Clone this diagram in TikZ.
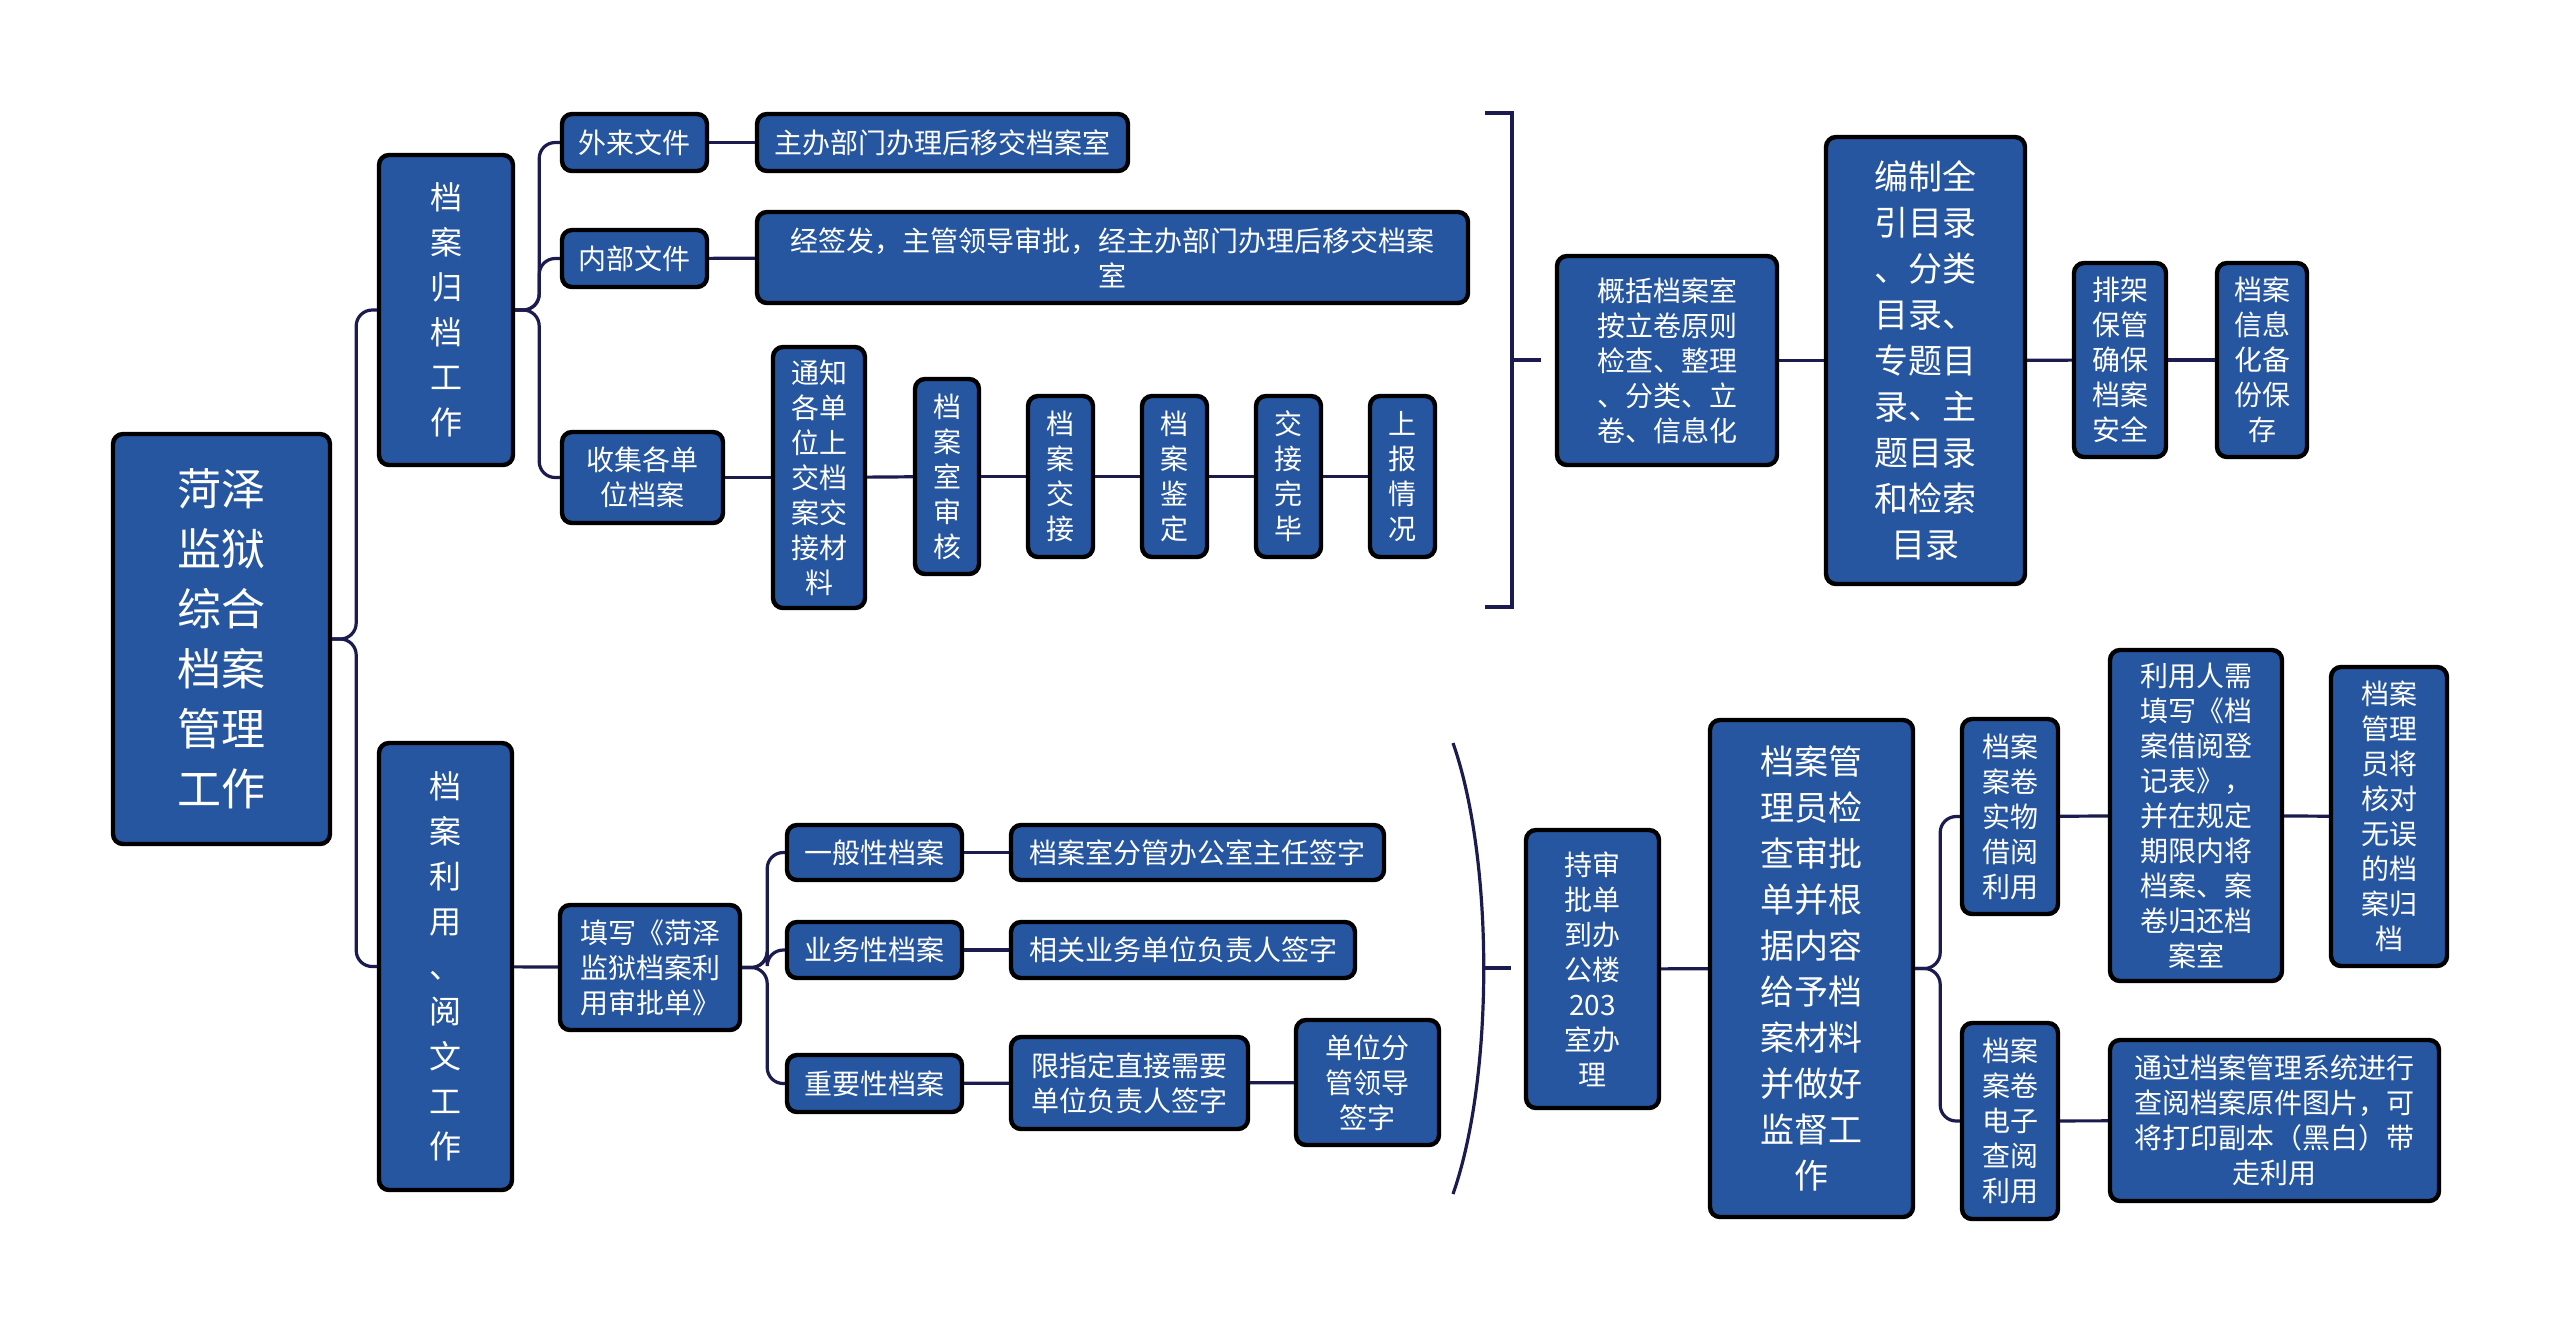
\documentclass[tikz,border=0pt]{standalone}
\usepackage{fontspec}
\newfontfamily\cjk{Noto Sans CJK SC}
\usepackage{xcolor}
\usepackage{tikz}

\definecolor{boxblue}{RGB}{38,86,160}
\definecolor{linknavy}{RGB}{27,27,79}

\tikzset{
  box/.style={draw=black, line width=1.1pt, fill=boxblue, rounded corners=2.5pt,
    text=white, align=center, inner sep=0pt, font=\cjk\fontsize{7}{8.75}\selectfont},
  colfont/.style={font=\cjk\fontsize{8}{11.25}\selectfont},
  bigfont/.style={font=\cjk\fontsize{8.5}{11.5}\selectfont},
  rootfont/.style={font=\cjk\fontsize{11}{15}\selectfont},
  link/.style={draw=linknavy, line width=0.8pt, rounded corners=4pt},
}

\begin{document}
\begin{tikzpicture}[x=0.25pt,y=-0.25pt]
\useasboundingbox (0,0) rectangle (2560,1331);

\node[box, rootfont, minimum width=54.25pt, minimum height=102.5pt] (root) at (221.5,639) {菏泽\\监狱\\综合\\档案\\管理\\工作};
\node[box, colfont, minimum width=33.5pt, minimum height=77.5pt] (guidang) at (446,310) {档\\案\\归\\档\\工\\作};
\node[box, colfont, minimum width=33.25pt, minimum height=111.75pt] (liyong) at (445.5,966.5) {档\\案\\利\\用\\、\\阅\\文\\工\\作};

\node[box, minimum width=36.25pt, minimum height=14.25pt] (wailai) at (634.5,142.5) {外来文件};
\node[box, minimum width=92.75pt, minimum height=14.25pt] (zhuban) at (942.5,142.5) {主办部门办理后移交档案室};
\node[box, minimum width=36.25pt, minimum height=14.25pt] (neibu) at (634.5,258.5) {内部文件};
\node[box, minimum width=177.75pt, minimum height=22.75pt] (jingqian) at (1112.5,257.5) {经签发，主管领导审批，经主办部门办理后移交档案\\室};
\node[box, minimum width=40.25pt, minimum height=22.75pt] (shouji) at (642.5,477.5) {收集各单\\位档案};
\node[box, minimum width=23pt, minimum height=65.25pt] (tongzhi) at (819,477.5) {通知\\各单\\位上\\交档\\案交\\接材\\料};
\node[box, minimum width=16pt, minimum height=48.75pt] (shenhe) at (947,476.5) {档\\案\\室\\审\\核};
\node[box, minimum width=16.25pt, minimum height=40.25pt] (jiaojie) at (1060.5,476.5) {档\\案\\交\\接};
\node[box, minimum width=16.25pt, minimum height=40.25pt] (jianding) at (1174.5,476.5) {档\\案\\鉴\\定};
\node[box, minimum width=16.25pt, minimum height=40.25pt] (wanbi) at (1288.5,476.5) {交\\接\\完\\毕};
\node[box, minimum width=16.25pt, minimum height=40.25pt] (shangbao) at (1402.5,476.5) {上\\报\\情\\况};

\node[box, minimum width=55pt, minimum height=52.25pt] (gaikuo) at (1667,360.5) {概括档案室\\按立卷原则\\检查、整理\\、分类、立\\卷、信息化};
\node[box, bigfont, minimum width=49.75pt, minimum height=111.75pt] (bianzhi) at (1925.5,360.5) {编制全\\引目录\\、分类\\目录、\\专题目\\录、主\\题目录\\和检索\\目录};
\node[box, minimum width=23pt, minimum height=48.5pt] (paijia) at (2120,360) {排架\\保管\\确保\\档案\\安全};
\node[box, minimum width=22.5pt, minimum height=48.5pt] (xinxi) at (2262,360) {档案\\信息\\化备\\份保\\存};

\node[box, minimum width=45pt, minimum height=31.25pt] (tianxie) at (650,967.5) {填写《菏泽\\监狱档案利\\用审批单》};
\node[box, minimum width=43.75pt, minimum height=13.75pt] (yiban) at (874.5,852.5) {一般性档案};
\node[box, minimum width=43.75pt, minimum height=14pt] (yewu) at (874.5,950) {业务性档案};
\node[box, minimum width=43.75pt, minimum height=14.25pt] (zhongyao) at (874.5,1083.5) {重要性档案};
\node[box, minimum width=93.25pt, minimum height=13.75pt] (fenguan) at (1197.5,852.5) {档案室分管办公室主任签字};
\node[box, minimum width=86pt, minimum height=14pt] (xiangguan) at (1183,950) {相关业务单位负责人签字};
\node[box, minimum width=59.25pt, minimum height=23pt] (xianzhi) at (1129.5,1083) {限指定直接需要\\单位负责人签字};
\node[box, minimum width=35.75pt, minimum height=31.25pt] (danwei) at (1367.5,1082.5) {单位分\\管领导\\签字};

\node[box, minimum width=33.25pt, minimum height=69.5pt] (chishen) at (1592.5,969) {持审\\批单\\到办\\公楼\\203\\室办\\理};
\node[box, bigfont, minimum width=50.75pt, minimum height=124.25pt] (guanliyuan) at (1811.5,968.5) {档案管\\理员检\\查审批\\单并根\\据内容\\给予档\\案材料\\并做好\\监督工\\作};
\node[box, minimum width=24pt, minimum height=48.75pt] (shiwu) at (2010,816.5) {档案\\案卷\\实物\\借阅\\利用};
\node[box, minimum width=24pt, minimum height=49pt] (dianzi) at (2010,1121) {档案\\案卷\\电子\\查阅\\利用};
\node[box, minimum width=43pt, minimum height=82.75pt] (liyongren) at (2196,815.5) {利用人需\\填写《档\\案借阅登\\记表》，\\并在规定\\期限内将\\档案、案\\卷归还档\\案室};
\node[box, minimum width=29pt, minimum height=74.75pt] (hedui) at (2389,816.5) {档案\\管理\\员将\\核对\\无误\\的档\\案归\\档};
\node[box, minimum width=82.25pt, minimum height=40.25pt] (tongguo) at (2274.5,1120.5) {通过档案管理系统进行\\查阅档案原件图片，可\\将打印副本（黑白）带\\走利用};

\draw[link] (root.east) -- ++(24,0) |- (guidang.west);
\draw[link] (root.east) -- ++(24,0) |- (liyong.west);
\draw[link] (guidang.east) -- ++(24,0) |- (wailai.west);
\draw[link] (guidang.east) -- ++(24,0) |- (neibu.west);
\draw[link] (guidang.east) -- ++(24,0) |- (shouji.west);
\draw[link] (wailai) -- (zhuban);
\draw[link] (neibu) -- (jingqian);
\draw[link] (shouji) -- (tongzhi);
\draw[link] (tongzhi) -- (shenhe);
\draw[link] (shenhe) -- (jiaojie);
\draw[link] (jiaojie) -- (jianding);
\draw[link] (jianding) -- (wanbi);
\draw[link] (wanbi) -- (shangbao);

\coordinate (brtop) at (1485,113);
\coordinate (brbot) at (1485,607);
\coordinate (brtip) at (1541,360);
\draw[link, rounded corners=0pt] (brtop) -- (1512,113) -- (1512,607) -- (brbot);
\draw[link] (1512,360) -- (brtip);
\draw[link] (gaikuo) -- (bianzhi);
\draw[link] (bianzhi) -- (paijia);
\draw[link] (paijia) -- (xinxi);

\draw[link] (liyong) -- (tianxie);
\draw[link] (tianxie.east) -- ++(25,0) |- (yiban.west);
\draw[link] (tianxie.east) -- ++(25,0) |- (yewu.west);
\draw[link] (tianxie.east) -- ++(25,0) |- (zhongyao.west);
\draw[link] (yiban) -- (fenguan);
\draw[link] (yewu) -- (xiangguan);
\draw[link] (zhongyao) -- (xianzhi);
\draw[link] (xianzhi) -- (danwei);

\coordinate (pntop) at (1453,743);
\coordinate (pnbot) at (1453,1194);
\coordinate (pnmid) at (1484,968);
\coordinate (pntip) at (1511,968);
\draw[link] (pntop) .. controls (1494,860) and (1494,1077) .. (pnbot);
\draw[link] (pnmid) -- (pntip);
\draw[link] (chishen) -- (guanliyuan);
\draw[link] (guanliyuan.east) -- ++(25,0) |- (shiwu.west);
\draw[link] (guanliyuan.east) -- ++(25,0) |- (dianzi.west);
\draw[link] (shiwu) -- (liyongren);
\draw[link] (liyongren) -- (hedui);
\draw[link] (dianzi) -- (tongguo);
\end{tikzpicture}
\end{document}
